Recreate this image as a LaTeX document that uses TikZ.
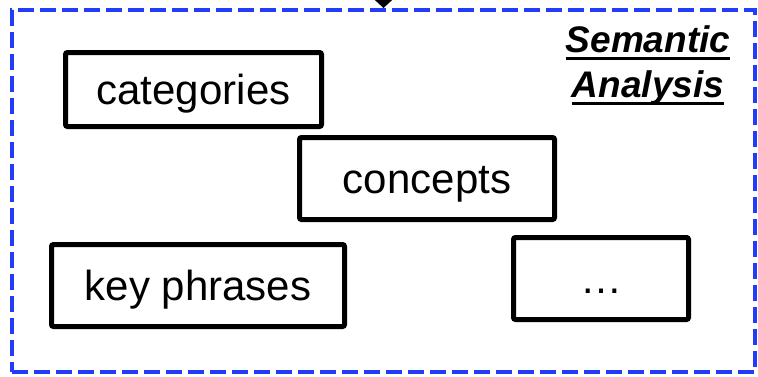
\documentclass[tikz,border=0pt]{standalone}
\usepackage{fontspec}
\setmainfont{Liberation Sans}
\usetikzlibrary{arrows.meta}
\definecolor{frameblue}{RGB}{35,60,250}
\newcommand\semul[1]{\setbox0\hbox{#1}\rlap{\rule[-8pt]{\wd0}{2.6pt}}\box0}
\tikzset{
  itembox/.style={draw=black, line width=5pt, rounded corners=2pt, fill=white,
    font=\fontsize{42}{46}\selectfont, text height=32pt, text depth=3pt,
    inner sep=0pt},
  framebox/.style={draw=frameblue, line width=4pt, dash pattern=on 16pt off 6pt,
    minimum width=743pt, minimum height=362pt, inner sep=0pt},
}
\begin{document}
\begin{tikzpicture}[x=1pt,y=-1pt]
\clip (0,0) rectangle (758,376);
\useasboundingbox (0,0) rectangle (758,376);
\node[framebox] (frame) at (383.5,191) {};
\coordinate (src) at (383.5,-30);
\draw[line width=2pt, -{Triangle[length=9pt,width=19pt]}] (src) -- (frame.north);
\node[font=\fontsize{37}{45}\selectfont\bfseries\itshape, align=center, anchor=base]
  (title) at (648,97) {\semul{Semantic}\\\semul{Analysis}};
\node[itembox, minimum width=256pt, minimum height=74pt] (cat) at (193.5,89.5) {categories};
\node[itembox, minimum width=255pt, minimum height=82pt] (con) at (427,178.5) {concepts};
\node[itembox, minimum width=293pt, minimum height=82pt] (key) at (198,285.5) {key phrases};
\node[itembox, minimum width=175pt, minimum height=82pt] (etc) at (601,278.5) {…};
\end{tikzpicture}
\end{document}
